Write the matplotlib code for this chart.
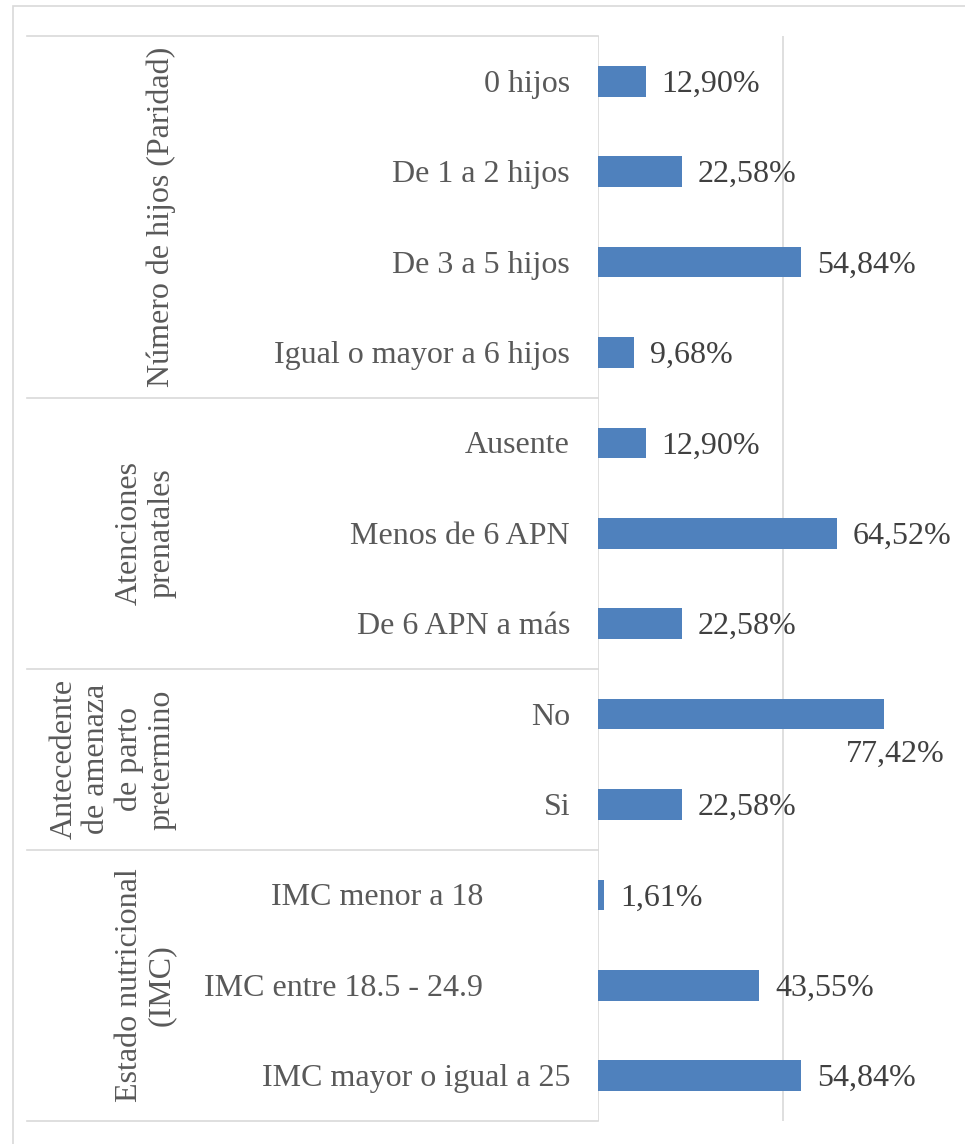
import matplotlib
matplotlib.use("Agg")
import matplotlib.pyplot as plt
from matplotlib import transforms
from matplotlib.patches import Rectangle

plt.rcParams['font.family'] = ['Liberation Serif', 'DejaVu Serif']

# datos
groups = ["Número de hijos (Paridad)",
          "Atenciones\nprenatales",
          "Antecedente\nde amenaza\nde parto\npretermino",
          "Estado nutricional\n(IMC)"]
group_sizes = [4, 3, 2, 3]
categories = ["0 hijos", "De 1 a 2 hijos", "De 3 a 5 hijos", "Igual o mayor a 6 hijos",
              "Ausente", "Menos de 6 APN", "De 6 APN a más",
              "No", "Si",
              "IMC menor a 18", "IMC entre 18.5 - 24.9", "IMC mayor o igual a 25"]
values = [12.90, 22.58, 54.84, 9.68,
          12.90, 64.52, 22.58,
          77.42, 22.58,
          1.61, 43.55, 54.84]

W, H = 965, 1144
fig = plt.figure(figsize=(W / 100, H / 100), dpi=100)
ax = fig.add_axes([598 / W, 1 - 1121 / H, 370 / W, (1121 - 36) / H])

bar_color = '#4F81BD'
grid_color = '#D9D9D9'
text_color = '#595959'
label_color = '#404040'
fs = 23

y = list(range(len(categories)))
ax.barh(y, values, height=0.34, color=bar_color, zorder=3)
ax.set_xlim(0, 100)
ax.set_ylim(len(categories) - 0.5, -0.5)

for xv in [0, 50, 100]:
    ax.axvline(xv, color=grid_color, lw=1.2, zorder=1)
for s in ax.spines.values():
    s.set_visible(False)
ax.set_xticks([])
ax.set_yticks([])

# etiquetas de valor
for i, v in enumerate(values):
    txt = f"{v:.2f}%".replace('.', ',')
    if v > 70:
        ax.annotate(txt, (v, i), xytext=(11, -40), textcoords='offset pixels',
                    ha='center', va='center', fontsize=fs, color=label_color)
    else:
        ax.annotate(txt, (v, i), xytext=(16, -3), textcoords='offset pixels',
                    ha='left', va='center', fontsize=fs, color=label_color)

# etiquetas de categoria
blend_ax = transforms.blended_transform_factory(ax.transAxes, ax.transData)
shifted = {"IMC menor a 18", "IMC entre 18.5 - 24.9"}
for i, c in enumerate(categories):
    dx = -115 if c in shifted else -28
    tr = blend_ax + transforms.ScaledTranslation(dx / 100, -3 / 100, fig.dpi_scale_trans)
    ax.text(0, i, c, transform=tr, ha='right', va='center', fontsize=fs,
            color=text_color, clip_on=False)

# grupos y separadores
blend_fig = transforms.blended_transform_factory(fig.transFigure, ax.transData)
start = -0.5
ax.plot([27 / W, 598 / W], [start, start], transform=blend_fig, color=grid_color,
        lw=1.2, clip_on=False)
for g, n in zip(groups, group_sizes):
    end = start + n
    ax.plot([27 / W, 598 / W], [end, end], transform=blend_fig, color=grid_color,
            lw=1.2, clip_on=False)
    ax.text(176 / W, (start + end) / 2, g, transform=blend_fig, rotation=90,
            ha='right', va='center', multialignment='center', fontsize=fs,
            color=text_color, linespacing=1.15, clip_on=False)
    start = end

# borde del grafico
fig.patches.append(Rectangle((13 / W, -0.1), 1.2, 1.1 - 6 / H, transform=fig.transFigure,
                             fill=False, edgecolor=grid_color, lw=1.2))

fig.savefig("out.png", dpi=100)
